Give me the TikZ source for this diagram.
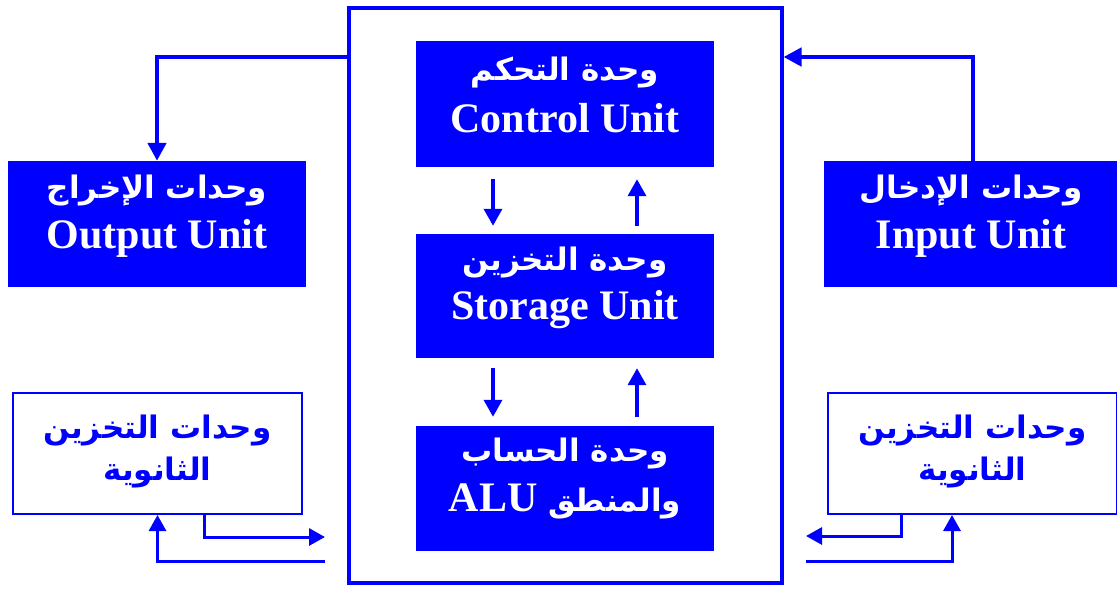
\documentclass[tikz,border=0pt]{standalone}
\usepackage{fontspec}
\setmainfont{Liberation Serif}
\newfontfamily\arabicfont[Script=Arabic]{DejaVu Sans}
\TeXXeTstate=1
\usetikzlibrary{arrows.meta}
\definecolor{unitblue}{RGB}{0,0,255}
\tikzset{
  unitbox/.style={fill=unitblue, draw=none, minimum width=#1, inner sep=0pt},
  sidebox/.style={draw=unitblue, line width=2pt, fill=white, minimum width=289pt, minimum height=121pt, inner sep=0pt},
  artext/.style={font=\arabicfont\bfseries\fontsize{31}{34}\selectfont, text=white, inner sep=0pt},
  entext/.style={font=\bfseries\fontsize{42}{46}\selectfont, text=white, inner sep=0pt},
  sidetext/.style={font=\arabicfont\bfseries\fontsize{31}{34}\selectfont, text=unitblue, inner sep=0pt},
  bigline/.style={draw=unitblue, line width=4.5pt},
  bigarrow/.style={bigline, -{Triangle[length=18pt,width=18pt]}},
  smallarrow/.style={draw=unitblue, line width=3.5pt, -{Triangle[length=17pt,width=18pt]}},
  linkarrow/.style={draw=unitblue, line width=3pt, -{Triangle[length=16pt,width=17pt]}},
}
\begin{document}
\begin{tikzpicture}[x=1pt,y=-1pt]
\useasboundingbox (0,0) rectangle (1117,590);

% processor frame
\node[draw=unitblue, line width=4pt, minimum width=433pt, minimum height=575pt, inner sep=0pt] (cpu) at (565,295.5) {};

% units inside the processor
\node[unitbox=298pt, minimum height=126pt] (cu) at (565,104) {};
\node[artext] (cuar) at (565,73) {\beginR وحدة التحكم\endR};
\node[entext] (cuen) at (565,118) {Control Unit};

\node[unitbox=298pt, minimum height=124pt] (su) at (565,296) {};
\node[artext] (suar) at (565,263) {\beginR وحدة التخزين\endR};
\node[entext] (suen) at (565,310) {Storage Unit};

\node[unitbox=298pt, minimum height=125pt] (alu) at (565,488.5) {};
\node[artext] (aluar) at (565,453) {\beginR وحدة الحساب\endR};
\node[entext] (aluen) at (565,501) {\beginR{\arabicfont\fontsize{31}{34}\selectfont والمنطق} \beginL ALU\endL\endR};

% input and output units
\node[unitbox=298pt, minimum height=126pt] (out) at (157,224) {};
\node[artext] (outar) at (157,191) {\beginR وحدات الإخراج\endR};
\node[entext] (outen) at (157,238) {Output Unit};

\node[unitbox=294pt, minimum height=126pt] (in) at (971,224) {};
\node[artext] (inar) at (971,191) {\beginR وحدات الإدخال\endR};
\node[entext] (inen) at (971,238) {Input Unit};

% secondary storage
\node[sidebox] (sl) at (157.5,453.5) {};
\node[sidetext] (slar1) at (157.5,430) {\beginR وحدات التخزين\endR};
\node[sidetext] (slar2) at (157.5,472) {\beginR الثانوية\endR};

\node[sidebox] (sr) at (972.5,453.5) {};
\node[sidetext] (srar1) at (972.5,430) {\beginR وحدات التخزين\endR};
\node[sidetext] (srar2) at (972.5,472) {\beginR الثانوية\endR};

% helper coordinates
\coordinate (ytop) at (0,57);
\coordinate (xin) at (973,0);
\coordinate (xcd) at (493,0);
\coordinate (xcu) at (637,0);
\coordinate (ly1) at (204,0);
\coordinate (lend1) at (325,537);
\coordinate (lstart2) at (325,561);
\coordinate (ry1) at (901,0);
\coordinate (rend1) at (806,536);
\coordinate (rstart2) at (806,561);
\coordinate (rx2) at (952,0);

% output / input links
\draw[bigarrow] (cpu.west |- ytop) -| (out.north);
\draw[bigarrow] (in.north -| xin) |- (cpu.east |- ytop);

% arrows between the internal units
\draw[smallarrow] ([yshift=-12pt]cu.south -| xcd) -- ([yshift=8pt]su.north -| xcd);
\draw[smallarrow] ([yshift=8pt]su.north -| xcu) -- ([yshift=-12pt]cu.south -| xcu);
\draw[smallarrow] ([yshift=-10pt]su.south -| xcd) -- ([yshift=9pt]alu.north -| xcd);
\draw[smallarrow] ([yshift=9pt]alu.north -| xcu) -- ([yshift=-10pt]su.south -| xcu);

% secondary storage links
\draw[linkarrow] (sl.south -| ly1) |- (lend1);
\draw[linkarrow] (lstart2) -| (sl.south);
\draw[linkarrow] (sr.south -| ry1) |- (rend1);
\draw[linkarrow] (rstart2) -| (sr.south -| rx2);
\end{tikzpicture}
\end{document}
